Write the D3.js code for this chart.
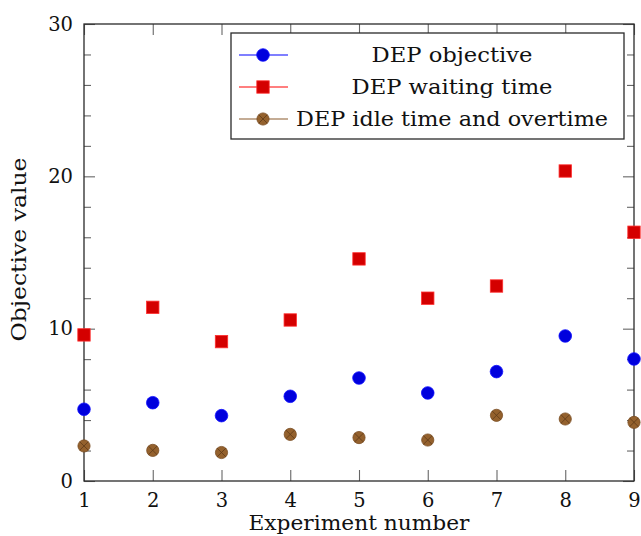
<!DOCTYPE html>
<html>
<head>
<meta charset="utf-8">
<script src="https://cdn.jsdelivr.net/npm/d3@7/dist/d3.min.js"></script>
<style>
  html, body { margin: 0; padding: 0; background: #fff; }
  svg text { font-family: "DejaVu Serif", "Liberation Serif", serif; fill: #111; }
</style>
</head>
<body>
<svg id="chart" width="641" height="536"></svg>
<script>
// ---- data ----
const experiments = [1, 2, 3, 4, 5, 6, 7, 8, 9];
const depObjective = [4.71, 5.14, 4.29, 5.56, 6.76, 5.78, 7.18, 9.52, 8.01];
const depWaiting   = [9.59, 11.4, 9.15, 10.57, 14.58, 12.0, 12.8, 20.35, 16.33];
const depIdle      = [2.30, 2.01, 1.87, 3.06, 2.85, 2.69, 4.31, 4.07, 3.85];
const yMajorTicks = [0, 10, 20, 30];
const yMinorTicks = [2, 4, 6, 8, 12, 14, 16, 18, 22, 24, 26, 28];
const seriesNames = ["DEP objective", "DEP waiting time", "DEP idle time and overtime"];
const xTitle = "Experiment number";
const yTitle = "Objective value";

// ---- layout ----
const svg = d3.select("#chart");
const L = 84, R = 634, T = 24, B = 481;
const x = d3.scaleLinear().domain([1, 9]).range([L, R]);
const y = d3.scaleLinear().domain([0, 30]).range([B, T]);

const tickColor = "#666";
const majorLen = 11, minorLen = 7;

function styleAxis(g) {
  g.select(".domain").remove();
  g.selectAll(".tick line").attr("stroke", tickColor).attr("stroke-width", 1.1);
  g.selectAll(".tick text").style("font-size", "19.5px").attr("fill", "#111");
}

// bottom
svg.append("g").attr("transform", `translate(0,${B})`)
  .call(d3.axisBottom(x).tickValues(experiments).tickFormat(d3.format("d"))
        .tickSizeInner(-majorLen).tickSizeOuter(0).tickPadding(12))
  .call(styleAxis);
// top
svg.append("g").attr("transform", `translate(0,${T})`)
  .call(d3.axisTop(x).tickValues(experiments).tickFormat("")
        .tickSizeInner(-majorLen).tickSizeOuter(0))
  .call(styleAxis);
// left major
svg.append("g").attr("transform", `translate(${L},0)`)
  .call(d3.axisLeft(y).tickValues(yMajorTicks).tickFormat(d3.format("d"))
        .tickSizeInner(-majorLen).tickSizeOuter(0).tickPadding(11))
  .call(styleAxis);
// left minor
svg.append("g").attr("transform", `translate(${L},0)`)
  .call(d3.axisLeft(y).tickValues(yMinorTicks).tickFormat("")
        .tickSizeInner(-minorLen).tickSizeOuter(0))
  .call(styleAxis);
// right major
svg.append("g").attr("transform", `translate(${R},0)`)
  .call(d3.axisRight(y).tickValues(yMajorTicks).tickFormat("")
        .tickSizeInner(-majorLen).tickSizeOuter(0))
  .call(styleAxis);
// right minor
svg.append("g").attr("transform", `translate(${R},0)`)
  .call(d3.axisRight(y).tickValues(yMinorTicks).tickFormat("")
        .tickSizeInner(-minorLen).tickSizeOuter(0))
  .call(styleAxis);

// frame
svg.append("rect").attr("x", L).attr("y", T).attr("width", R - L).attr("height", B - T)
  .attr("fill", "none").attr("stroke", "#2a2a2a").attr("stroke-width", 1.3);

// axis titles
svg.append("text").attr("x", (L + R) / 2).attr("y", 530)
  .attr("text-anchor", "middle").style("font-size", "21px")
  .attr("textLength", 221).attr("lengthAdjust", "spacingAndGlyphs")
  .text(xTitle);
svg.append("text").attr("transform", `translate(26,${(T + B) / 2 - 3}) rotate(-90)`)
  .attr("text-anchor", "middle").style("font-size", "21px")
  .attr("textLength", 184).attr("lengthAdjust", "spacingAndGlyphs")
  .text(yTitle);

// ---- markers ----
const styles = [
  { fill: "#0000dd", stroke: "#1010ff", line: "#0000ff", shape: "circle" },
  { fill: "#d40000", stroke: "#ff3030", line: "#ff0000", shape: "square" },
  { fill: "#94612d", stroke: "#7a4c22", line: "#8a5a2c", shape: "otimes" }
];

function drawMarker(g, cx, cy, st) {
  if (st.shape === "circle") {
    g.append("circle").attr("cx", cx).attr("cy", cy).attr("r", 6.3)
      .attr("fill", st.fill).attr("stroke", st.stroke).attr("stroke-width", 0.8);
  } else if (st.shape === "square") {
    const s = 12.4;
    g.append("rect").attr("x", cx - s / 2).attr("y", cy - s / 2).attr("width", s).attr("height", s)
      .attr("fill", st.fill).attr("stroke", st.stroke).attr("stroke-width", 0.8);
  } else {
    const r = 6.1, k = r * Math.SQRT1_2;
    g.append("circle").attr("cx", cx).attr("cy", cy).attr("r", r)
      .attr("fill", st.fill).attr("stroke", st.stroke).attr("stroke-width", 0.8);
    g.append("path")
      .attr("d", `M${cx - k},${cy - k}L${cx + k},${cy + k}M${cx - k},${cy + k}L${cx + k},${cy - k}`)
      .attr("stroke", "#5e3a18").attr("stroke-width", 0.8);
  }
}

const seriesValues = [depObjective, depWaiting, depIdle];
seriesValues.forEach((vals, si) => {
  const g = svg.append("g").attr("class", "series-" + si);
  experiments.forEach((e, i) => drawMarker(g, x(e), y(vals[i]), styles[si]));
});

// ---- legend ----
const lg = svg.append("g");
lg.append("rect").attr("x", 231).attr("y", 33).attr("width", 393).attr("height", 106)
  .attr("fill", "#fff").attr("stroke", "#2a2a2a").attr("stroke-width", 1.3);
const rowY = [55, 87, 119];
const textW = [161, 201, 312];
seriesNames.forEach((name, i) => {
  const ry = rowY[i];
  lg.append("line").attr("x1", 239).attr("x2", 288).attr("y1", ry).attr("y2", ry)
    .attr("stroke", styles[i].line).attr("stroke-width", 1.2);
  drawMarker(lg, 263, ry, styles[i]);
  lg.append("text").attr("x", 452).attr("y", ry + 7)
    .attr("text-anchor", "middle").style("font-size", "21px")
    .attr("textLength", textW[i]).attr("lengthAdjust", "spacingAndGlyphs")
    .text(name);
});
</script>
</body>
</html>
